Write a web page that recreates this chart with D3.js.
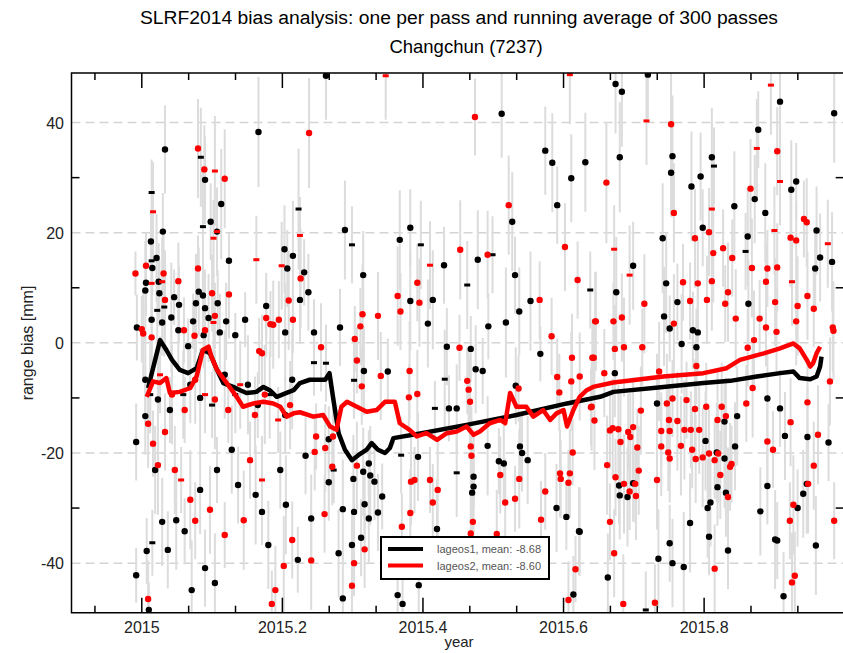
<!DOCTYPE html>
<html>
<head>
<meta charset="utf-8">
<script src="https://cdn.jsdelivr.net/npm/d3@7"></script>
<style>
  body { margin: 0; background: #fff; }
  svg { display: block; font-family: "Liberation Sans", Arial, sans-serif; }
</style>
</head>
<body>
<svg id="chart" width="843" height="653"></svg>
<script>
// one value per pass: [year, bias mm, sigma mm, normal points]
const lageos1Passes = [
  [2014.993, 2.8, 6, 9], [2014.992, -42.2, 5, 9], [2015.007, -37.8, 6, 9], [2015.010, -48.5, 5, 8],
  [2014.992, -18.0, 7, 9], [2015.033, 35.1, 8, 9], [2015.014, 27.3, 6, 3], [2015.030, 20.2, 7, 9],
  [2015.013, 18.4, 5, 9], [2015.021, 15.4, 8, 9], [2015.014, 14.9, 6, 3], [2015.015, 13.6, 5, 9],
  [2015.024, 11.1, 7, 9], [2015.006, 10.9, 6, 9], [2015.005, 9.5, 9, 9], [2015.025, 9.0, 6, 9],
  [2015.046, 8.3, 5, 9], [2015.053, 6.9, 7, 9], [2015.032, 6.5, 9, 3], [2015.022, 5.9, 6, 3],
  [2015.014, 4.2, 8, 9], [2015.029, 3.7, 6, 9], [2015.042, 4.6, 10, 9], [2015.052, 2.3, 7, 9],
  [2015.066, -0.6, 5, 9], [2015.084, 33.7, 9, 3], [2015.090, 29.6, 8, 9], [2015.113, 25.2, 10, 9],
  [2015.098, 22.0, 7, 9], [2015.087, 21.1, 11, 3], [2015.107, 20.2, 6, 9], [2015.124, 14.9, 5, 9],
  [2015.081, 9.3, 8, 9], [2015.087, 8.6, 6, 9], [2015.077, 7.2, 9, 9], [2015.090, 6.3, 7, 9],
  [2015.108, 7.2, 6, 9], [2015.095, 4.5, 8, 9], [2015.120, 3.9, 7, 9], [2015.073, 3.9, 5, 9],
  [2015.088, 1.4, 6, 9], [2015.133, 1.4, 4, 9], [2015.111, 1.9, 7, 9], [2015.147, 4.2, 5, 9],
  [2015.166, 38.3, 10, 9], [2015.177, 6.7, 6, 9], [2015.204, 1.9, 9, 9], [2015.203, 17.0, 8, 9],
  [2015.207, 13.5, 7, 9], [2015.215, 15.8, 10, 9], [2015.223, 24.3, 11, 3], [2015.231, 12.8, 6, 9],
  [2015.237, 9.2, 7, 9],
  [2015.015, -36.3, 6, 3], [2015.029, -32.5, 8, 9], [2015.037, -37.6, 7, 9], [2015.049, -32.2, 9, 9],
  [2015.061, -34.2, 6, 9], [2015.083, -26.7, 8, 9], [2015.090, -40.9, 7, 9], [2015.104, -43.6, 9, 9],
  [2015.107, -23.1, 6, 9], [2015.128, -19.4, 8, 9], [2015.137, -25.8, 7, 9], [2015.162, -27.6, 9, 9],
  [2015.171, -30.7, 6, 9], [2015.180, -36.7, 8, 9], [2015.197, -23.1, 7, 9], [2015.205, -29.4, 9, 9],
  [2015.222, -39.4, 6, 9], [2015.019, -23.1, 8, 9], [2015.005, -13.3, 7, 9], [2015.071, -44.9, 9, 9],
  [2015.005, -6.7, 8, 9], [2015.012, -9.4, 7, 3], [2015.023, -10.3, 9, 9], [2015.040, -12.2, 6, 9],
  [2015.059, -9.4, 8, 3], [2015.069, -7.6, 7, 9], [2015.083, -10.0, 9, 9], [2015.100, -11.3, 6, 3],
  [2015.118, -5.8, 8, 9], [2015.133, -9.4, 7, 3], [2015.151, -7.6, 9, 9], [2015.165, -11.3, 6, 9],
  [2015.182, -9.4, 8, 3], [2015.204, -13.1, 7, 9], [2015.214, -6.7, 9, 9],
  [2015.262, 48.5, 8, 9], [2015.289, 20.5, 9, 9], [2015.299, 17.8, 7, 3], [2015.315, 12.3, 8, 9],
  [2015.367, 18.7, 9, 9], [2015.382, 20.9, 7, 9], [2015.397, 17.8, 8, 3], [2015.414, 7.8, 9, 9],
  [2015.430, 14.1, 7, 9], [2015.463, 10.5, 8, 3], [2015.478, 15.1, 9, 9], [2015.499, 16.0, 7, 3],
  [2015.512, 41.6, 8, 9], [2015.527, 22.0, 9, 9], [2015.531, 12.3, 7, 9], [2015.574, 34.9, 8, 9],
  [2015.584, 32.7, 9, 9], [2015.591, 25.0, 7, 9], [2015.611, 29.9, 8, 9], [2015.631, 32.8, 9, 9],
  [2015.638, 9.6, 7, 3],
  [2015.225, 7.8, 8, 9], [2015.245, 1.9, 6, 9], [2015.282, 2.8, 7, 9], [2015.382, 7.6, 9, 9],
  [2015.407, 3.5, 8, 9], [2015.493, 3.0, 6, 9], [2015.518, 3.7, 10, 9], [2015.434, -0.7, 7, 9],
  [2015.468, -1.1, 6, 9], [2015.537, 5.7, 8, 9], [2015.553, 7.6, 9, 9], [2015.567, -2.0, 5, 9],
  [2015.245, -3.6, 6, 3], [2015.262, -3.7, 7, 3], [2015.316, -5.1, 8, 9], [2015.350, -5.2, 6, 9],
  [2015.302, -6.8, 7, 3], [2015.475, -4.8, 8, 9], [2015.485, -5.1, 6, 9], [2015.431, -6.6, 9, 3],
  [2015.532, -7.8, 7, 9], [2015.437, -11.9, 6, 9], [2015.448, -11.9, 8, 9], [2015.417, -11.9, 5, 3],
  [2015.233, -20.5, 7, 9], [2015.266, -17.5, 6, 9], [2015.393, -20.7, 8, 9], [2015.369, -20.4, 7, 3],
  [2015.492, -18.7, 9, 9], [2015.538, -18.8, 6, 9], [2015.541, -20.0, 7, 9], [2015.549, -21.3, 8, 9],
  [2015.508, -21.5, 6, 9], [2015.515, -21.9, 7, 9], [2015.315, -23.4, 8, 9], [2015.323, -21.9, 6, 9],
  [2015.325, -24.1, 9, 9], [2015.331, -25.2, 7, 9], [2015.301, -24.7, 8, 9], [2015.273, -23.1, 6, 3],
  [2015.266, -25.3, 7, 9], [2015.448, -23.6, 8, 3], [2015.472, -24.3, 6, 9], [2015.472, -26.1, 9, 9],
  [2015.470, -27.2, 7, 9], [2015.590, -30.0, 8, 9], [2015.604, -31.6, 6, 9], [2015.317, -29.3, 7, 9],
  [2015.323, -31.9, 8, 9], [2015.286, -30.2, 9, 9], [2015.302, -30.7, 6, 9], [2015.336, -30.8, 7, 9],
  [2015.241, -31.9, 8, 9], [2015.342, -27.9, 6, 9], [2015.420, -33.8, 9, 9], [2015.312, -35.4, 7, 9],
  [2015.280, -38.2, 8, 9], [2015.299, -36.7, 6, 9], [2015.394, -44.0, 7, 9], [2015.286, -46.4, 8, 9],
  [2015.364, -45.8, 6, 9], [2015.371, -47.4, 9, 9], [2015.614, -45.7, 7, 9], [2015.622, -34.2, 8, 9],
  [2015.674, 47.0, 9, 9], [2015.683, 45.6, 10, 9], [2015.720, 48.7, 8, 9], [2015.908, 43.8, 11, 9],
  [2015.985, 41.7, 9, 9], [2015.877, 38.7, 7, 9], [2015.680, 33.7, 10, 9], [2015.753, 30.9, 8, 9],
  [2015.755, 33.9, 11, 9], [2015.811, 33.7, 9, 9], [2015.814, 32.1, 7, 3], [2015.795, 30.2, 8, 9],
  [2015.782, 28.4, 10, 9], [2015.924, 27.8, 9, 9], [2015.931, 29.3, 7, 9], [2015.872, 26.1, 8, 9],
  [2015.843, 24.8, 10, 9], [2015.887, 23.6, 9, 9], [2015.798, 20.9, 7, 9], [2015.960, 20.4, 8, 9],
  [2015.862, 19.3, 9, 9], [2015.741, 19.0, 10, 9], [2015.859, 16.6, 7, 3], [2015.965, 15.5, 8, 9],
  [2015.982, 14.7, 9, 9], [2015.958, 13.5, 7, 9], [2015.699, 14.0, 8, 9], [2015.746, 10.8, 9, 9],
  [2015.675, 9.2, 10, 9], [2015.762, 7.4, 7, 9], [2015.863, 7.1, 8, 9], [2015.743, 4.8, 9, 9],
  [2015.784, 2.3, 7, 9], [2015.791, 1.9, 8, 9], [2015.751, 2.6, 6, 9], [2015.768, -0.2, 9, 9],
  [2015.789, -0.8, 7, 9], [2015.673, -5.5, 8, 9], [2015.733, -11.0, 9, 9], [2015.679, -25.9, 7, 9],
  [2015.680, -27.7, 8, 9], [2015.691, -28.0, 9, 9], [2015.699, -25.5, 7, 9], [2015.663, -42.6, 8, 9],
  [2015.735, -39.2, 9, 9], [2015.751, -36.4, 7, 9], [2015.755, -40.0, 8, 9], [2015.771, -40.7, 10, 9],
  [2015.780, -32.7, 9, 9], [2015.807, -35.2, 7, 9], [2015.809, -29.0, 8, 9], [2015.805, -30.0, 9, 9],
  [2015.819, -26.2, 7, 9], [2015.831, -27.2, 8, 9], [2015.829, -21.0, 9, 9], [2015.834, -37.7, 7, 9],
  [2015.844, -18.8, 8, 9], [2015.847, -13.3, 9, 9], [2015.890, -26.0, 7, 9], [2015.880, -30.6, 8, 9],
  [2015.901, -35.7, 9, 9], [2015.904, -35.9, 7, 9], [2015.913, -46.0, 8, 9], [2015.959, -36.8, 9, 9],
  [2015.933, -30.0, 7, 9], [2015.941, -27.4, 8, 9], [2015.946, -25.6, 9, 9], [2015.908, -11.9, 7, 9],
  [2015.915, -16.9, 8, 9], [2015.947, -17.1, 9, 9], [2015.977, -18.1, 7, 9], [2015.890, -10.1, 8, 9],
  [2015.802, -17.8, 9, 9], [2015.829, -14.3, 7, 9], [2015.623, -34.3, 8, 9], [2015.818, -19.9, 9, 9],
  [2015.717, -48.5, 7, 3]
];

const lageos2Passes = [
  [2014.991, 12.6, 4, 9], [2015.016, 23.8, 9, 3], [2015.006, 14.0, 6, 9], [2015.031, 12.6, 7, 9],
  [2015.029, 11.1, 8, 3], [2015.014, 10.8, 6, 3], [2015.033, 7.8, 9, 9], [2015.052, 11.2, 7, 9],
  [2015.000, 2.5, 6, 9], [2015.002, 1.7, 8, 9], [2015.014, 1.0, 7, 9], [2015.060, 2.3, 6, 9],
  [2015.080, 35.3, 9, 9], [2015.089, 31.5, 8, 9], [2015.104, 31.2, 10, 3], [2015.118, 29.8, 9, 9],
  [2015.102, 19.0, 7, 3], [2015.107, 20.2, 8, 3], [2015.080, 13.5, 6, 9], [2015.100, 9.0, 7, 9],
  [2015.124, 8.8, 8, 9], [2015.104, 4.9, 6, 9], [2015.102, 3.7, 9, 3], [2015.090, 2.3, 7, 9],
  [2015.075, 1.3, 6, 9], [2015.163, 15.1, 8, 3], [2015.177, 4.5, 7, 9], [2015.183, 3.4, 6, 9],
  [2015.187, 3.3, 8, 9], [2015.195, 4.2, 7, 9], [2015.209, 7.7, 9, 9], [2015.215, 4.2, 6, 9],
  [2015.199, 14.0, 8, 3], [2015.225, 19.5, 7, 3], [2015.226, 11.7, 9, 9], [2015.238, 38.1, 10, 9],
  [2015.167, -1.5, 6, 9], [2015.171, -1.9, 7, 9],
  [2015.009, -46.5, 7, 9], [2015.009, -14.7, 8, 9], [2015.016, -18.3, 6, 9], [2015.023, -22.2, 9, 9],
  [2015.033, -16.2, 7, 9], [2015.047, -23.1, 8, 9], [2015.056, -24.9, 6, 3], [2015.069, -28.5, 9, 9],
  [2015.076, -32.3, 7, 9], [2015.097, -30.3, 8, 9], [2015.118, -34.9, 6, 9], [2015.145, -32.2, 9, 9],
  [2015.154, -21.3, 7, 9], [2015.190, -44.9, 8, 9], [2015.185, -47.4, 6, 9], [2015.202, -40.5, 9, 9],
  [2015.214, -35.8, 7, 9], [2015.171, -24.9, 8, 3],
  [2015.012, -7.6, 8, 9], [2015.026, -5.8, 7, 3], [2015.043, -9.4, 9, 9], [2015.061, -12.2, 6, 9],
  [2015.076, -6.7, 8, 9], [2015.090, -9.4, 7, 3], [2015.104, -10.3, 9, 9], [2015.123, -12.2, 6, 9],
  [2015.140, -7.6, 8, 3], [2015.161, -13.1, 7, 9], [2015.175, -9.4, 9, 9], [2015.194, -14.0, 6, 3],
  [2015.211, -11.3, 8, 9],
  [2015.347, 48.5, 8, 3], [2015.364, 8.5, 9, 9], [2015.392, 10.9, 7, 9], [2015.410, 14.1, 8, 3],
  [2015.453, 16.9, 9, 9], [2015.474, 41.0, 7, 9], [2015.492, 16.0, 8, 9], [2015.522, 25.0, 9, 9],
  [2015.566, 7.8, 7, 9], [2015.602, 17.4, 8, 9], [2015.609, 48.7, 9, 3], [2015.620, 11.4, 7, 9],
  [2015.255, -0.8, 8, 9], [2015.303, 0.7, 6, 9], [2015.311, 3.0, 7, 9], [2015.336, 4.9, 8, 9],
  [2015.314, 5.2, 9, 9], [2015.368, 5.7, 7, 9], [2015.395, 7.3, 8, 9], [2015.452, -0.9, 6, 9],
  [2015.583, 1.2, 7, 9], [2015.645, 3.9, 9, 9], [2015.612, -2.7, 8, 9], [2015.643, -2.7, 7, 9],
  [2015.306, -3.2, 6, 9], [2015.340, -6.0, 8, 9], [2015.313, -7.9, 7, 9], [2015.381, -5.1, 9, 9],
  [2015.463, -6.9, 6, 9], [2015.465, -8.5, 7, 9], [2015.392, -9.3, 8, 9], [2015.380, -9.9, 6, 9],
  [2015.591, -6.2, 7, 9], [2015.611, -7.0, 9, 9], [2015.623, -6.1, 8, 9], [2015.594, -9.0, 7, 9],
  [2015.536, -8.3, 6, 9], [2015.467, -10.7, 8, 9], [2015.639, -11.7, 7, 9], [2015.644, -14.1, 9, 9],
  [2015.248, -17.0, 6, 9], [2015.261, -19.1, 8, 9], [2015.246, -19.8, 7, 9], [2015.272, -17.0, 6, 9],
  [2015.306, -22.3, 8, 9], [2015.468, -18.8, 7, 9], [2015.469, -20.5, 9, 9], [2015.613, -19.9, 6, 9],
  [2015.271, -22.5, 7, 9], [2015.383, -25.2, 8, 9], [2015.410, -24.9, 6, 9], [2015.510, -24.0, 7, 9],
  [2015.537, -24.7, 9, 9], [2015.595, -23.7, 8, 9], [2015.596, -24.7, 7, 9], [2015.607, -25.4, 6, 9],
  [2015.609, -23.7, 8, 9], [2015.574, -27.0, 7, 9], [2015.421, -26.7, 9, 9], [2015.388, -24.9, 6, 9],
  [2015.414, -29.0, 7, 9], [2015.517, -29.0, 8, 9], [2015.531, -28.3, 6, 9], [2015.568, -32.1, 7, 9],
  [2015.471, -32.5, 9, 9], [2015.382, -30.9, 8, 9], [2015.260, -31.1, 7, 9], [2015.370, -33.4, 6, 9],
  [2015.505, -34.7, 8, 9], [2015.317, -37.5, 7, 9], [2015.241, -39.5, 9, 9], [2015.302, -40.0, 6, 9],
  [2015.299, -44.1, 7, 9], [2015.468, -34.6, 8, 9], [2015.617, -41.1, 6, 9], [2015.607, -46.7, 7, 9],
  [2015.895, 46.8, 9, 3], [2015.718, 40.3, 8, 3], [2015.753, 39.7, 10, 9], [2015.875, 35.3, 9, 3],
  [2015.904, 34.8, 8, 9], [2015.661, 29.1, 11, 9], [2015.866, 28.0, 9, 9], [2015.908, 29.3, 8, 3],
  [2015.811, 24.3, 10, 3], [2015.757, 23.6, 9, 9], [2015.807, 20.1, 8, 9], [2015.942, 22.5, 7, 9],
  [2015.946, 21.9, 8, 9], [2015.923, 19.1, 9, 9], [2015.931, 18.6, 7, 9], [2015.900, 20.4, 8, 3],
  [2015.787, 19.0, 9, 9], [2015.827, 17.2, 7, 9], [2015.672, 17.0, 8, 3], [2015.813, 16.3, 9, 9],
  [2015.840, 15.4, 7, 9], [2015.976, 18.0, 8, 3], [2015.868, 13.6, 9, 9], [2015.890, 13.5, 7, 9],
  [2015.904, 13.7, 8, 9], [2015.694, 12.3, 9, 3], [2015.770, 11.0, 7, 9], [2015.791, 10.8, 8, 9],
  [2015.811, 11.2, 9, 9], [2015.888, 11.1, 7, 9], [2015.925, 11.1, 8, 3], [2015.715, 7.1, 9, 9],
  [2015.780, 7.6, 7, 9], [2015.804, 7.8, 8, 9], [2015.834, 9.2, 9, 9], [2015.830, 7.1, 7, 9],
  [2015.947, 8.5, 8, 9], [2015.933, 6.7, 9, 9], [2015.956, 6.2, 7, 9], [2015.901, 7.4, 8, 9],
  [2015.646, 3.9, 9, 9], [2015.671, 3.9, 7, 9], [2015.683, 4.6, 8, 9], [2015.845, 4.4, 9, 9],
  [2015.879, 4.4, 7, 9], [2015.931, 3.9, 8, 9], [2015.757, 3.5, 9, 9], [2015.888, 2.8, 7, 9],
  [2015.903, 2.0, 8, 9], [2015.871, 0.5, 9, 9], [2015.862, -0.9, 7, 9], [2015.673, -1.1, 8, 9],
  [2015.686, -0.8, 9, 9], [2015.712, -0.8, 7, 9], [2015.983, 2.8, 8, 9], [2015.984, 2.2, 9, 9],
  [2015.641, -2.7, 7, 9], [2015.658, -5.5, 8, 9], [2015.736, -5.2, 9, 9], [2015.789, -4.2, 7, 9],
  [2015.710, -12.3, 8, 9], [2015.747, -11.0, 9, 9], [2015.755, -10.1, 7, 9], [2015.640, -11.6, 8, 9],
  [2015.670, -15.5, 9, 9], [2015.666, -15.9, 7, 9], [2015.678, -15.7, 8, 9], [2015.699, -15.3, 9, 9],
  [2015.692, -16.2, 7, 9], [2015.695, -17.1, 8, 9], [2015.681, -18.0, 9, 9], [2015.705, -19.0, 7, 9],
  [2015.750, -14.0, 8, 9], [2015.762, -14.2, 9, 9], [2015.739, -16.0, 7, 9], [2015.751, -16.0, 8, 9],
  [2015.772, -15.8, 9, 9], [2015.781, -15.8, 7, 9], [2015.793, -15.8, 8, 9], [2015.787, -12.0, 9, 9],
  [2015.775, -10.4, 7, 9], [2015.803, -11.6, 8, 9], [2015.819, -14.0, 9, 9], [2015.831, -13.3, 7, 9],
  [2015.825, -11.6, 8, 9], [2015.739, -18.8, 9, 9], [2015.749, -19.9, 7, 9], [2015.751, -21.0, 8, 9],
  [2015.767, -18.7, 9, 9], [2015.783, -19.4, 7, 9], [2015.788, -21.1, 8, 9], [2015.798, -20.8, 9, 9],
  [2015.815, -21.3, 7, 9], [2015.807, -20.1, 8, 9], [2015.820, -20.1, 9, 9], [2015.839, -22.0, 7, 9],
  [2015.837, -22.5, 8, 9], [2015.662, -22.2, 9, 9], [2015.674, -24.4, 7, 9], [2015.707, -23.2, 8, 9],
  [2015.733, -24.9, 9, 9], [2015.694, -27.0, 7, 9], [2015.703, -27.8, 8, 9], [2015.686, -25.6, 9, 9],
  [2015.702, -25.6, 7, 9], [2015.823, -24.0, 8, 9], [2015.834, -28.0, 9, 9], [2015.666, -32.5, 7, 9],
  [2015.672, -38.2, 8, 9], [2015.685, -47.4, 9, 9], [2015.730, -47.2, 7, 9], [2015.815, -41.0, 8, 9],
  [2015.927, -29.4, 9, 9], [2015.922, -32.3, 7, 9], [2015.929, -42.3, 8, 9], [2015.925, -43.5, 9, 9],
  [2015.985, -32.3, 7, 9], [2015.923, -14.4, 8, 9], [2015.962, -16.7, 9, 9], [2015.947, -10.8, 7, 9],
  [2015.956, -22.3, 8, 9], [2015.948, -25.6, 9, 9], [2015.898, -19.4, 7, 9], [2015.890, -17.9, 8, 9],
  [2015.869, -8.2, 9, 9], [2015.860, -11.0, 7, 9], [2015.979, -7.0, 8, 9]
];

// running average of 300 passes: [year, bias mm]
const lageos1Average = [
  [2015.009, -8.2], [2015.026, 0.5], [2015.035, -1.3], [2015.043, -3.1], [2015.054, -4.9],
  [2015.066, -5.5], [2015.078, -4.6], [2015.087, -1.3], [2015.097, -1.9], [2015.107, -4.9],
  [2015.116, -7.3], [2015.130, -8.0], [2015.140, -8.6], [2015.149, -9.1], [2015.163, -8.9],
  [2015.173, -8.0], [2015.182, -8.6], [2015.192, -9.8], [2015.206, -9.1], [2015.216, -8.6],
  [2015.225, -7.3], [2015.239, -6.7], [2015.261, -6.7], [2015.267, -5.5], [2015.272, -9.8],
  [2015.280, -16.4], [2015.289, -19.4], [2015.299, -21.3], [2015.308, -20.4], [2015.320, -19.4],
  [2015.327, -18.2], [2015.336, -19.4], [2015.346, -20.0], [2015.353, -19.1], [2015.358, -17.3],
  [2015.398, -16.4], [2015.462, -14.9], [2015.533, -13.1], [2015.605, -11.0], [2015.652, -9.8],
  [2015.671, -8.9], [2015.742, -8.0], [2015.799, -7.3], [2015.837, -6.9], [2015.875, -6.1],
  [2015.908, -5.5], [2015.927, -5.2], [2015.936, -6.4], [2015.951, -6.6], [2015.960, -6.1],
  [2015.965, -4.3], [2015.967, -2.5]
];

const lageos2Average = [
  [2015.007, -9.8], [2015.016, -7.0], [2015.026, -7.3], [2015.035, -6.4], [2015.040, -9.1],
  [2015.054, -8.9], [2015.069, -8.2], [2015.078, -6.1], [2015.087, -1.3], [2015.095, -0.7],
  [2015.099, -2.5], [2015.107, -4.9], [2015.121, -7.3], [2015.135, -9.8], [2015.144, -11.6],
  [2015.159, -11.0], [2015.173, -10.7], [2015.187, -11.0], [2015.197, -11.6], [2015.206, -13.4],
  [2015.216, -12.8], [2015.225, -12.6], [2015.244, -13.4], [2015.258, -13.1], [2015.268, -15.2],
  [2015.277, -15.8], [2015.284, -11.6], [2015.292, -10.7], [2015.306, -11.6], [2015.320, -12.5],
  [2015.334, -12.2], [2015.346, -10.7], [2015.360, -10.7], [2015.367, -14.6], [2015.381, -15.8],
  [2015.391, -17.0], [2015.405, -16.4], [2015.420, -17.6], [2015.434, -16.4], [2015.448, -16.1],
  [2015.462, -15.2], [2015.472, -16.7], [2015.481, -16.1], [2015.495, -14.6], [2015.510, -14.0],
  [2015.517, -14.6], [2015.524, -9.1], [2015.533, -11.6], [2015.547, -11.6], [2015.557, -13.4],
  [2015.571, -12.2], [2015.581, -14.0], [2015.590, -12.8], [2015.600, -12.2], [2015.605, -15.2],
  [2015.614, -12.2], [2015.623, -9.8], [2015.633, -8.6], [2015.642, -8.0], [2015.671, -7.2],
  [2015.742, -6.1], [2015.799, -5.5], [2015.832, -4.6], [2015.851, -3.1], [2015.885, -1.9],
  [2015.908, -1.0], [2015.927, -0.1], [2015.936, -1.0], [2015.946, -3.1], [2015.951, -4.3],
  [2015.955, -3.7], [2015.960, -1.9], [2015.965, -0.7]
];

const legendItems = [
  { name: 'lageos1', mean: '-8.68', color: '#000000' },
  { name: 'lageos2', mean: '-8.60', color: '#ff0000' }
];

const yearLabels = [2015, 2015.2, 2015.4, 2015.6, 2015.8];
const biasLabels = [-40, -20, 0, 20, 40];
const biasMinor = [-30, -10, 10, 30];

const svg = d3.select('#chart');

const plotLeft = 71.5, plotRight = 844.7, plotTop = 73, plotBottom = 612.7;

const x = d3.scaleLinear().domain([2014.9, 2016.0]).range([plotLeft, plotRight]);
const y = d3.scaleLinear().domain([-49, 49]).range([plotBottom, plotTop]);

// titles
svg.append('text')
  .attr('x', 459).attr('y', 24)
  .attr('text-anchor', 'middle')
  .attr('font-size', 18)
  .attr('textLength', 638).attr('lengthAdjust', 'spacingAndGlyphs')
  .text('SLRF2014 bias analysis: one per pass and running average of 300 passes');

svg.append('text')
  .attr('x', 466).attr('y', 53)
  .attr('text-anchor', 'middle')
  .attr('font-size', 18.5)
  .text('Changchun (7237)');

const plot = svg.append('g');

svg.append('defs').append('clipPath').attr('id', 'clip')
  .append('rect').attr('x', plotLeft).attr('y', plotTop)
  .attr('width', plotRight - plotLeft).attr('height', plotBottom - plotTop);

// horizontal grid
plot.selectAll('.grid')
  .data(biasLabels)
  .enter()
  .append('line')
  .attr('x1', plotLeft).attr('x2', plotRight)
  .attr('y1', d => y(d)).attr('y2', d => y(d))
  .attr('stroke', '#d4d4d4')
  .attr('stroke-width', 1.5)
  .attr('stroke-dasharray', '9,5');

const marks = plot.append('g').attr('clip-path', 'url(#clip)');

const allPasses = lageos1Passes.concat(lageos2Passes);

// error bars
marks.selectAll('.err')
  .data(allPasses)
  .enter()
  .append('line')
  .attr('x1', d => x(d[0])).attr('x2', d => x(d[0]))
  .attr('y1', d => y(d[1] - d[2])).attr('y2', d => y(d[1] + d[2]))
  .attr('stroke', '#dcdcdc')
  .attr('stroke-width', 2);

const drawPasses = (data, color) => {
  const g = marks.append('g');
  g.selectAll('circle')
    .data(data.filter(d => d[3] >= 6))
    .enter()
    .append('circle')
    .attr('cx', d => x(d[0]))
    .attr('cy', d => y(d[1]))
    .attr('r', 3.2)
    .attr('fill', color);
  g.selectAll('rect')
    .data(data.filter(d => d[3] < 6))
    .enter()
    .append('rect')
    .attr('x', d => x(d[0]) - 3)
    .attr('y', d => y(d[1]) - 1.5)
    .attr('width', 6)
    .attr('height', 3)
    .attr('fill', color);
};

drawPasses(lageos1Passes, '#000000');
drawPasses(lageos2Passes, '#ff0000');

const line = d3.line().x(d => x(d[0])).y(d => y(d[1]));

marks.append('path')
  .datum(lageos1Average)
  .attr('d', line)
  .attr('fill', 'none')
  .attr('stroke', '#000')
  .attr('stroke-width', 4.5)
  .attr('stroke-linejoin', 'round');

marks.append('path')
  .datum(lageos2Average)
  .attr('d', line)
  .attr('fill', 'none')
  .attr('stroke', '#ff0000')
  .attr('stroke-width', 4.5)
  .attr('stroke-linejoin', 'round');

// frame
plot.append('path')
  .attr('d', `M${plotRight},${plotTop}H${plotLeft}V${plotBottom}H${plotRight}`)
  .attr('fill', 'none')
  .attr('stroke', '#000')
  .attr('stroke-width', 1.5);

// x ticks: every 1/15 year, long ones at labels
const xTicks = d3.range(-1, 16).map(k => 2015 + k / 15);
const isMajor = v => yearLabels.some(l => Math.abs(l - v) < 1e-6);

plot.selectAll('.xtb')
  .data(xTicks)
  .enter()
  .append('line')
  .attr('x1', d => x(d)).attr('x2', d => x(d))
  .attr('y1', plotBottom).attr('y2', d => plotBottom - (isMajor(d) ? 15 : 7))
  .attr('stroke', '#000').attr('stroke-width', 1.5);

plot.selectAll('.xtt')
  .data(xTicks)
  .enter()
  .append('line')
  .attr('x1', d => x(d)).attr('x2', d => x(d))
  .attr('y1', plotTop).attr('y2', d => plotTop + (isMajor(d) ? 15 : 7))
  .attr('stroke', '#000').attr('stroke-width', 1.5);

plot.selectAll('.xl')
  .data(yearLabels)
  .enter()
  .append('text')
  .attr('x', d => x(d))
  .attr('y', 633)
  .attr('text-anchor', 'middle')
  .attr('font-size', 16)
  .attr('fill', '#222')
  .text(d => d3.format('')(d));

// y ticks
plot.selectAll('.ytl')
  .data(biasMinor)
  .enter()
  .append('line')
  .attr('x1', plotLeft).attr('x2', plotLeft + 8)
  .attr('y1', d => y(d)).attr('y2', d => y(d))
  .attr('stroke', '#000').attr('stroke-width', 1.5);

plot.selectAll('.ytr')
  .data(biasMinor)
  .enter()
  .append('line')
  .attr('x1', plotRight - 9).attr('x2', plotRight)
  .attr('y1', d => y(d)).attr('y2', d => y(d))
  .attr('stroke', '#000').attr('stroke-width', 1.5);

plot.selectAll('.yl')
  .data(biasLabels)
  .enter()
  .append('text')
  .attr('x', 64)
  .attr('y', d => y(d) + 6)
  .attr('text-anchor', 'end')
  .attr('font-size', 16)
  .attr('fill', '#222')
  .text(d => d);

svg.append('text')
  .attr('x', 459).attr('y', 647)
  .attr('text-anchor', 'middle')
  .attr('font-size', 15)
  .attr('fill', '#222')
  .text('year');

svg.append('text')
  .attr('transform', 'translate(33,343) rotate(-90)')
  .attr('text-anchor', 'middle')
  .attr('font-size', 16)
  .attr('fill', '#222')
  .text('range bias [mm]');

// legend
const legend = svg.append('g');
legend.append('rect')
  .attr('x', 381).attr('y', 537)
  .attr('width', 168).attr('height', 42)
  .attr('fill', '#fff')
  .attr('stroke', '#000')
  .attr('stroke-width', 2);

const rows = legend.selectAll('.row')
  .data(legendItems)
  .enter()
  .append('g')
  .attr('transform', (d, i) => `translate(0,${549 + i * 16.5})`);

rows.append('line')
  .attr('x1', 388).attr('x2', 423)
  .attr('stroke', d => d.color)
  .attr('stroke-width', 4);

rows.append('text')
  .attr('x', 437).attr('y', 4)
  .attr('font-size', 11)
  .attr('fill', '#555')
  .text(d => `${d.name}, mean:`);

rows.append('text')
  .attr('x', 541).attr('y', 4)
  .attr('text-anchor', 'end')
  .attr('font-size', 11)
  .attr('fill', '#555')
  .text(d => d.mean);
</script>
</body>
</html>
